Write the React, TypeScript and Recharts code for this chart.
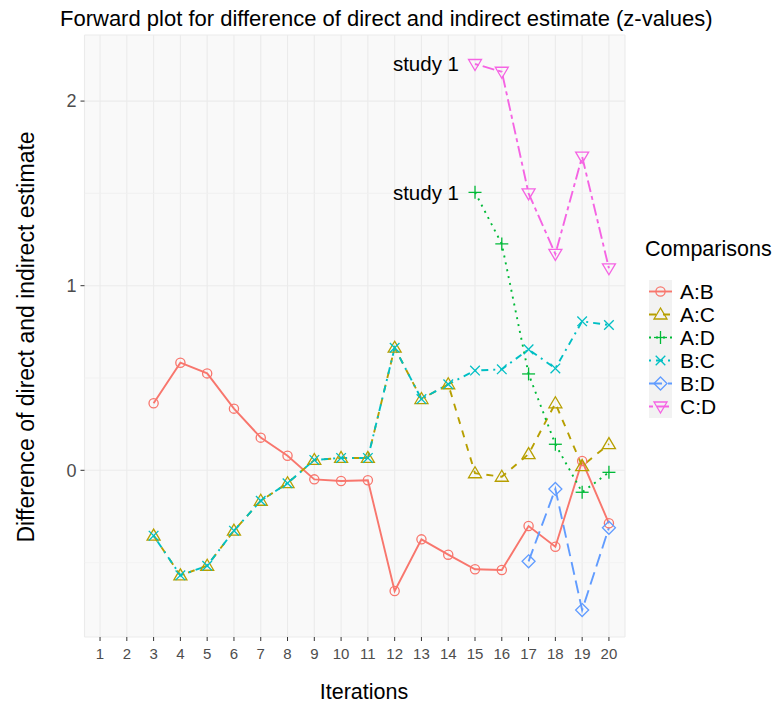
import React from "react";
import {
  LineChart,
  Line,
  XAxis,
  YAxis,
  CartesianGrid,
  ReferenceLine,
} from "recharts";

const iterations = [1, 2, 3, 4, 5, 6, 7, 8, 9, 10, 11, 12, 13, 14, 15, 16, 17, 18, 19, 20];

const abValues = [null, null, 0.363, 0.583, 0.525, 0.334, 0.177, 0.079, -0.049, -0.058, -0.054, -0.654, -0.374, -0.457, -0.536, -0.54, -0.302, -0.414, 0.05, -0.287];
const acValues = [null, null, -0.354, -0.569, -0.517, -0.327, -0.165, -0.07, 0.056, 0.067, 0.067, 0.664, 0.386, 0.466, -0.016, -0.035, 0.088, 0.363, 0.023, 0.142];
const adValues = [null, null, null, null, null, null, null, null, null, null, null, null, null, null, 1.506, 1.226, 0.522, 0.141, -0.119, -0.011];
const bcValues = [null, null, -0.354, -0.569, -0.517, -0.327, -0.165, -0.07, 0.056, 0.067, 0.067, 0.664, 0.386, 0.466, 0.54, 0.547, 0.655, 0.552, 0.807, 0.787];
const bdValues = [null, null, null, null, null, null, null, null, null, null, null, null, null, null, null, null, -0.493, -0.101, -0.757, -0.311];
const cdValues = [null, null, null, null, null, null, null, null, null, null, null, null, null, null, 2.201, 2.159, 1.5, 1.172, 1.699, 1.094];

const yTicks = [0, 1, 2];
const yMinor = [-0.5, 0.5, 1.5];

const data = iterations.map((it, i) => ({
  it,
  ab: abValues[i],
  ac: acValues[i],
  ad: adValues[i],
  bc: bcValues[i],
  bd: bdValues[i],
  cd: cdValues[i],
}));

const series = [
  { key: "ab", name: "A:B", color: "#F8766D", dash: undefined, shape: "circle" },
  { key: "ac", name: "A:C", color: "#B79F00", dash: "7 7", shape: "triangle" },
  { key: "ad", name: "A:D", color: "#00BA38", dash: "2 5", shape: "plus" },
  { key: "bc", name: "B:C", color: "#00BFC4", dash: "2 5 7 5", shape: "cross" },
  { key: "bd", name: "B:D", color: "#619CFF", dash: "13 6", shape: "diamond" },
  { key: "cd", name: "C:D", color: "#F564E3", dash: "4 4 12 4", shape: "down" },
];

const FONT = "'Liberation Sans', Arial, sans-serif";

function Marker({ shape, cx, cy, color }: { shape: string; cx: number; cy: number; color: string }) {
  const sw = 1.3;
  if (shape === "circle") return <circle cx={cx} cy={cy} r={4.6} fill="none" stroke={color} strokeWidth={sw} />;
  if (shape === "triangle")
    return <polygon points={`${cx},${cy - 6.5} ${cx - 6.5},${cy + 4.5} ${cx + 6.5},${cy + 4.5}`} fill="none" stroke={color} strokeWidth={sw} />;
  if (shape === "down")
    return <polygon points={`${cx - 6.5},${cy - 4.5} ${cx + 6.5},${cy - 4.5} ${cx},${cy + 6.5}`} fill="none" stroke={color} strokeWidth={sw} />;
  if (shape === "plus")
    return (
      <g stroke={color} strokeWidth={sw}>
        <line x1={cx - 6.5} y1={cy} x2={cx + 6.5} y2={cy} />
        <line x1={cx} y1={cy - 6.5} x2={cx} y2={cy + 6.5} />
      </g>
    );
  if (shape === "cross")
    return (
      <g stroke={color} strokeWidth={sw}>
        <line x1={cx - 4.8} y1={cy - 4.8} x2={cx + 4.8} y2={cy + 4.8} />
        <line x1={cx - 4.8} y1={cy + 4.8} x2={cx + 4.8} y2={cy - 4.8} />
      </g>
    );
  return <polygon points={`${cx},${cy - 6.5} ${cx + 6.5},${cy} ${cx},${cy + 6.5} ${cx - 6.5},${cy}`} fill="none" stroke={color} strokeWidth={sw} />;
}

// "study 1" next to the first point of A:D and C:D
const studyLabel = (props: any) => {
  if (props.index !== 14 || props.value == null) return <g />;
  return (
    <text x={props.x - 16} y={props.y} textAnchor="end" dominantBaseline="central" fontSize={20.5} fontFamily={FONT} fill="#000">
      study 1
    </text>
  );
};

export default function App() {
  return (
    <div style={{ position: "absolute", left: 0, top: 0, width: 775, height: 702, background: "#fff", fontFamily: FONT }}>
      <LineChart width={775} height={702} data={data} margin={{ top: 35, right: 150, bottom: 35, left: 0 }}>
        <CartesianGrid fill="#F9F9F9" stroke="#EBEBEB" strokeWidth={1.1} />
        {yMinor.map((v) => (
          <ReferenceLine key={v} y={v} stroke="#F0F0F0" strokeWidth={0.8} />
        ))}
        <XAxis
          dataKey="it"
          type="number"
          domain={[0.42, 20.6]}
          ticks={iterations}
          interval={0}
          height={30}
          axisLine={false}
          tickSize={4}
          tickLine={{ stroke: "#333", strokeWidth: 1 }}
          tick={{ fontSize: 15, fill: "#4D4D4D", fontFamily: FONT }}
          tickMargin={7.5}
        />
        <YAxis
          type="number"
          domain={[-0.903, 2.358]}
          ticks={yTicks}
          width={84.5}
          axisLine={false}
          tickSize={4}
          tickLine={{ stroke: "#333", strokeWidth: 1 }}
          tick={{ fontSize: 18, fill: "#4D4D4D", fontFamily: FONT }}
          tickMargin={4}
          allowDataOverflow
        />
        {series.map((s) => (
          <Line
            key={s.key}
            dataKey={s.key}
            stroke={s.color}
            strokeWidth={1.9}
            strokeDasharray={s.dash}
            isAnimationActive={false}
            type="linear"
            activeDot={false}
            label={s.key === "ad" || s.key === "cd" ? studyLabel : undefined}
            dot={(p: any) =>
              p.cx == null || p.cy == null || p.value == null ? (
                <g key={p.key} />
              ) : (
                <g key={p.key}>
                  <Marker shape={s.shape} cx={p.cx} cy={p.cy} color={s.color} />
                </g>
              )
            }
          />
        ))}
      </LineChart>

      <div style={{ position: "absolute", left: 60, top: 5.5, fontSize: 22, color: "#000", whiteSpace: "nowrap" }}>
        Forward plot for difference of direct and indirect estimate (z-values)
      </div>
      <div
        style={{
          position: "absolute",
          left: 26,
          top: 337,
          transform: "translate(-50%, -50%) rotate(-90deg)",
          fontSize: 23,
          whiteSpace: "nowrap",
          color: "#000",
        }}
      >
        Difference of direct and indirect estimate
      </div>
      <div style={{ position: "absolute", left: 364, top: 692, transform: "translate(-50%, -50%)", fontSize: 21.5, color: "#000", whiteSpace: "nowrap" }}>
        Iterations
      </div>

      <div style={{ position: "absolute", left: 645, top: 236.5, fontSize: 21.5, color: "#000", whiteSpace: "nowrap" }}>Comparisons</div>
      {series.map((s, i) => (
        <div key={s.key} style={{ position: "absolute", left: 649, top: 280 + i * 23, height: 23, display: "flex", alignItems: "center" }}>
          <svg width={23} height={23} style={{ display: "block" }}>
            <rect x={0} y={0} width={23} height={23} fill="#F2F2F2" />
            <line x1={0} y1={11.5} x2={23} y2={11.5} stroke={s.color} strokeWidth={1.9} strokeDasharray={s.dash} />
            <Marker shape={s.shape} cx={11.5} cy={11.5} color={s.color} />
          </svg>
          <span style={{ marginLeft: 8, fontSize: 21, color: "#000", whiteSpace: "nowrap" }}>{s.name}</span>
        </div>
      ))}
    </div>
  );
}
